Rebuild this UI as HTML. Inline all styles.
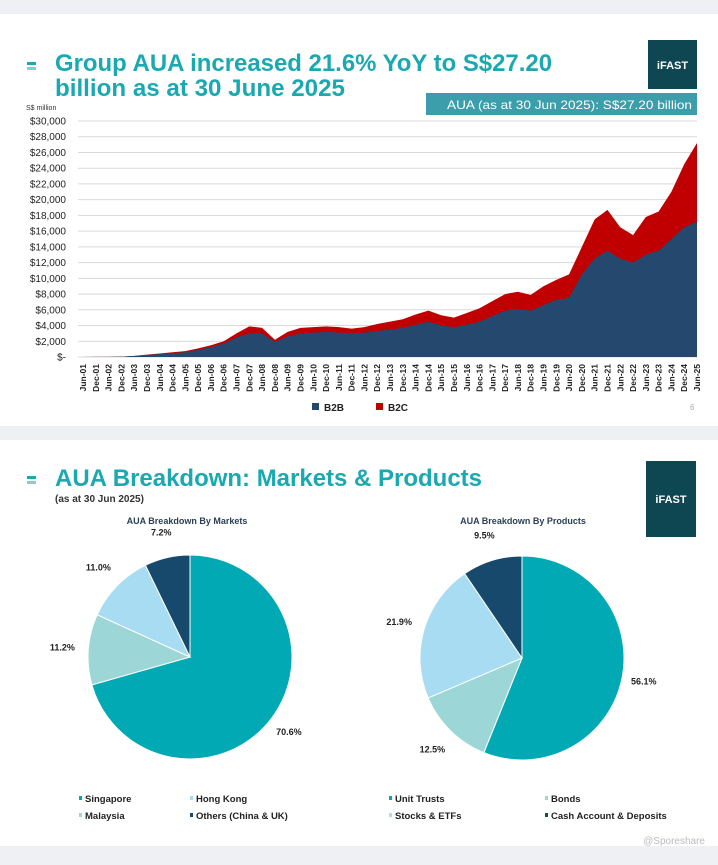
<!DOCTYPE html>
<html><head><meta charset="utf-8">
<style>
body{margin:0;background:#eef0f3;font-family:"Liberation Sans",Arial,sans-serif;}
svg{display:block}
</style></head>
<body>
<svg id="s" width="718" height="865" xmlns="http://www.w3.org/2000/svg" font-family="Liberation Sans, Arial, sans-serif">
  <rect x="0" y="0" width="718" height="865" fill="#eef0f3"/>
  <rect x="0" y="14" width="718" height="412" fill="#ffffff"/>
  <rect x="0" y="440" width="718" height="406" fill="#ffffff"/>

  <g><rect x="27" y="62" width="9" height="3" fill="#1aa9b0"/><rect x="27" y="67" width="9" height="3" fill="#8fc9cf"/></g>
  <text x="55" y="71" font-size="24" font-weight="bold" fill="#1aa9b0" textLength="497" lengthAdjust="spacingAndGlyphs">Group AUA increased 21.6% YoY to S$27.20</text>
  <text x="55" y="96" font-size="24" font-weight="bold" fill="#1aa9b0" textLength="290" lengthAdjust="spacingAndGlyphs">billion as at 30 June 2025</text>
  <rect x="648" y="40" width="49" height="49" fill="#0e4651"/>
  <text x="672.5" y="69" font-size="11" font-weight="bold" fill="#fff" text-anchor="middle">iFAST</text>
  <rect x="426" y="93" width="271" height="22" fill="#3c9eab"/>
  <text x="692" y="109" font-size="12" fill="#fff" text-anchor="end" textLength="245" lengthAdjust="spacingAndGlyphs">AUA (as at 30 Jun 2025): S$27.20 billion</text>
  <text x="26" y="110" font-size="7" fill="#333">S$ million</text>
  <g id="chart"></g>

  <g><rect x="27" y="476" width="9" height="3" fill="#1aa9b0"/><rect x="27" y="481" width="9" height="3" fill="#8fc9cf"/></g>
  <text x="55" y="486" font-size="24" font-weight="bold" fill="#1aa9b0" textLength="427" lengthAdjust="spacingAndGlyphs">AUA Breakdown: Markets &amp; Products</text>
  <text x="55" y="502" font-size="10" font-weight="bold" fill="#333">(as at 30 Jun 2025)</text>
  <rect x="646" y="461" width="50" height="76" fill="#0e4651"/>
  <text x="671" y="503" font-size="11" font-weight="bold" fill="#fff" text-anchor="middle">iFAST</text>
  <text x="187" y="524" font-size="9" font-weight="bold" fill="#2b3f55" text-anchor="middle">AUA Breakdown By Markets</text>
  <text x="523" y="524" font-size="9" font-weight="bold" fill="#2b3f55" text-anchor="middle">AUA Breakdown By Products</text>
  <g id="pies"></g>
  <text x="690" y="410" font-size="8" fill="#aaa">6</text>
  <text x="705" y="844" font-size="10" fill="#bbb" text-anchor="end">@Sporeshare</text>
</svg>
<script>
const NS="http://www.w3.org/2000/svg";
const labels=["Jun-01","Dec-01","Jun-02","Dec-02","Jun-03","Dec-03","Jun-04","Dec-04","Jun-05","Dec-05","Jun-06","Dec-06","Jun-07","Dec-07","Jun-08","Dec-08","Jun-09","Dec-09","Jun-10","Dec-10","Jun-11","Dec-11","Jun-12","Dec-12","Jun-13","Dec-13","Jun-14","Dec-14","Jun-15","Dec-15","Jun-16","Dec-16","Jun-17","Dec-17","Jun-18","Dec-18","Jun-19","Dec-19","Jun-20","Dec-20","Jun-21","Dec-21","Jun-22","Dec-22","Jun-23","Dec-23","Jun-24","Dec-24","Jun-25"];
const b2b=[0,10,20,40,130,250,380,500,620,900,1250,1700,2500,3000,3000,1900,2600,3000,3100,3200,3100,3000,3100,3300,3500,3700,4100,4500,4000,3800,4100,4500,5200,5900,6100,5900,6600,7300,7500,10500,12500,13500,12500,12000,13000,13500,15000,16500,17200];
const b2c=[0,0,0,10,20,50,70,100,130,200,250,300,500,900,700,300,600,700,700,700,700,600,700,900,1000,1100,1300,1400,1300,1200,1500,1700,1900,2100,2200,2000,2400,2500,3000,3500,5000,5200,4000,3500,4800,5000,6000,8000,10000];
const yTicks=[0,2000,4000,6000,8000,10000,12000,14000,16000,18000,20000,22000,24000,26000,28000,30000];
const X0=83,X1=697,Y0=357,Y1=121;
const xs=i=>X0+(X1-X0)*i/(labels.length-1);
const ys=v=>Y0-(Y0-Y1)*v/30000;
function el(t,a,p,txt){const e=document.createElementNS(NS,t);for(const k in a)e.setAttribute(k,a[k]);if(txt!==undefined)e.textContent=txt;p.appendChild(e);return e;}
const g=document.getElementById('chart');
yTicks.forEach(v=>{
  const l=el('line',{x1:78,x2:X1,y1:ys(v),y2:ys(v),stroke:'#d9d9d9','stroke-width':1},g);
  
  
  const t=el('text',{x:66,y:ys(v)+3.5,'font-size':10,fill:'#222','text-anchor':'end'},g,v===0?'$-':'$'+v.toLocaleString('en-US'));
  
  
});
let tot=b2b.map((v,i)=>v+b2c[i]);
let pT='M'+xs(0)+','+Y0+' '+tot.map((v,i)=>'L'+xs(i)+','+ys(v)).join(' ')+' L'+xs(labels.length-1)+','+Y0+'Z';
const a2=el('path',{d:pT,fill:'#c00000'},g);


let pB='M'+xs(0)+','+Y0+' '+b2b.map((v,i)=>'L'+xs(i)+','+ys(v)).join(' ')+' L'+xs(labels.length-1)+','+Y0+'Z';
const a1=el('path',{d:pB,fill:'#25496e'},g);


labels.forEach((s,i)=>{
  const x=xs(i)+3;
  const t=el('text',{x:x,y:364,'font-size':8.5,'font-weight':'bold',fill:'#222','text-anchor':'end',transform:`rotate(-90 ${x} 364)`},g,s);
  
  
});
[['B2B','#25496e',312],['B2C','#c00000',376]].forEach(([n,c,x])=>{
  const r=el('rect',{x:x,y:403,width:7,height:7,fill:c},g);
  
  
  const t=el('text',{x:x+12,y:411,'font-size':10,'font-weight':'bold',fill:'#222'},g,n);
  
  
});
// pies
const mktNames=["Singapore","Malaysia","Hong Kong","Others (China & UK)"];
const mktVals=[70.6,11.2,11.0,7.2];
const prodNames=["Unit Trusts","Bonds","Stocks & ETFs","Cash Account & Deposits"];
const prodVals=[56.1,12.5,21.9,9.5];
const pieColors=["#00a9b4","#9dd6d6","#a8dcf2","#17496d"];
const P=document.getElementById('pies');
function pie(vals,names,cx,cy,r,lbl,key,leg){
  const sum=vals.reduce((a,b)=>a+b,0);let a=-Math.PI/2;
  vals.forEach((v,i)=>{
    const b=a+2*Math.PI*v/sum;
    const x1=cx+r*Math.cos(a),y1=cy+r*Math.sin(a),x2=cx+r*Math.cos(b),y2=cy+r*Math.sin(b);
    const p=el('path',{d:`M${cx},${cy} L${x1},${y1} A${r},${r} 0 ${b-a>Math.PI?1:0} 1 ${x2},${y2}Z`,fill:pieColors[i],stroke:'#fff','stroke-width':1},P);
    
    
    const m=(a+b)/2,lr=r+(i===0?22:26);
    const t=el('text',{x:cx+lr*Math.cos(m),y:cy+lr*Math.sin(m)+3,'font-size':9,'font-weight':'bold',fill:'#222','text-anchor':'middle'},P,v.toFixed(1)+'%');
    
    
    const [lx,ly]=leg[i];
    const s=el('rect',{x:lx,y:ly-6,width:3,height:4,fill:pieColors[i]},P);
    
    
    const lt=el('text',{x:lx+6,y:ly,'font-size':9.5,'font-weight':'bold',fill:'#222'},P,names[i]);
    
    
    a=b;
  });
}
pie(mktVals,mktNames,190,657,102,0,'markets',[[79,802],[79,819],[190,802],[190,819]]);
pie(prodVals,prodNames,522,658,102,0,'products',[[389,802],[545,802],[389,819],[545,819]]);
</script>
</body></html>
